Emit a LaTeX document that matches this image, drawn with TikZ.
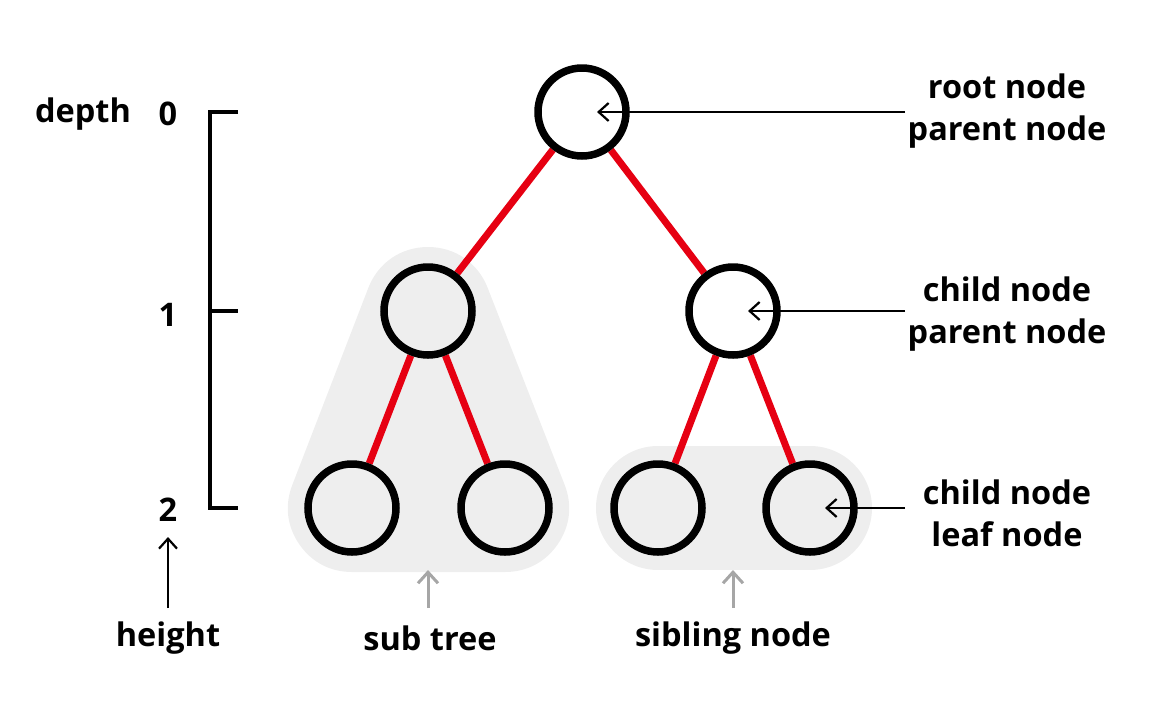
\documentclass[tikz,border=0pt]{standalone}
\usepackage{fontspec}
\setmainfont{Open Sans}
\usetikzlibrary{arrows.meta,backgrounds}
\definecolor{edgered}{HTML}{E60012}
\definecolor{hullgray}{HTML}{EEEEEE}
\definecolor{ptrgray}{HTML}{A6A6A6}
\begin{document}
\begin{tikzpicture}[x=1pt,y=-1pt,
  tnode/.style={circle,draw=black,line width=7.5pt,minimum size=88pt,inner sep=0pt},
  redline/.style={draw=edgered,line width=7pt},
  lbl/.style={font=\fontsize{32.5}{42}\selectfont\bfseries,align=center,inner sep=0pt},
  ptr/.style={draw=black,line width=2.2pt,-{Straight Barb[length=10pt,width=18pt,line width=2.2pt]}},
  gptr/.style={draw=ptrgray,line width=3pt,-{Straight Barb[length=11pt,width=20pt,line width=3pt]}},
  scalebar/.style={draw=black,line width=4pt}
]
\useasboundingbox (0,0) rectangle (1162,705);
% tree nodes
\node[tnode] (root) at (582,112) {};
\node[tnode] (c1) at (428,311) {};
\node[tnode] (c2) at (733,311) {};
\node[tnode] (l1) at (352,508) {};
\node[tnode] (l2) at (505,508) {};
\node[tnode] (l3) at (658,508) {};
\node[tnode] (l4) at (810,508) {};
\begin{pgfonlayer}{background}
  \filldraw[hullgray,line width=128pt,line join=round] (c1.center) -- (l1.center) -- (l2.center) -- cycle;
  \draw[hullgray,line width=124pt,line cap=round] (l3.center) -- (l4.center);
  \draw[redline] (root) -- (c1);
  \draw[redline] (root) -- (c2);
  \draw[redline] (c1) -- (l1);
  \draw[redline] (c1) -- (l2);
  \draw[redline] (c2) -- (l3);
  \draw[redline] (c2) -- (l4);
\end{pgfonlayer}
% right labels
\node[lbl] (lroot) at (1007,111) {root node\\parent node};
\node[lbl] (lchild) at (1007,314) {child node\\parent node};
\node[lbl] (lleaf) at (1007,513) {child node\\leaf node};
\coordinate (sroot) at (905,112);
\coordinate (schild) at (905,311);
\coordinate (sleaf) at (905,508);
\draw[ptr] (sroot) -- ([xshift=15pt]root.center);
\draw[ptr] (schild) -- ([xshift=15pt]c2.center);
\draw[ptr] (sleaf) -- ([xshift=15pt]l4.center);
% depth scale
\node[lbl] (depth) at (83,114) {depth};
\node[lbl] (d0) at (168,114) {0};
\node[lbl] (d1) at (168,315) {1};
\node[lbl] (d2) at (168,510) {2};
\coordinate (t0) at (238,112);
\coordinate (t1) at (238,311);
\coordinate (t2) at (238,508);
\draw[scalebar] (t0) -- (210,112) -- (210,508) -- (t2);
\draw[scalebar] (210,311) -- (t1);
\node[lbl] (height) at (168,638) {height};
\coordinate (hs) at (168,608);
\coordinate (ht) at (168,537);
\draw[ptr] (hs) -- (ht);
% bottom labels
\node[lbl] (subtree) at (430,638) {sub tree};
\node[lbl] (sibling) at (733,638) {sibling node};
\coordinate (sts) at (428,608);
\coordinate (stt) at (428,570);
\coordinate (sbs) at (733,608);
\coordinate (sbt) at (733,570);
\draw[gptr] (sts) -- (stt);
\draw[gptr] (sbs) -- (sbt);
\end{tikzpicture}
\end{document}
